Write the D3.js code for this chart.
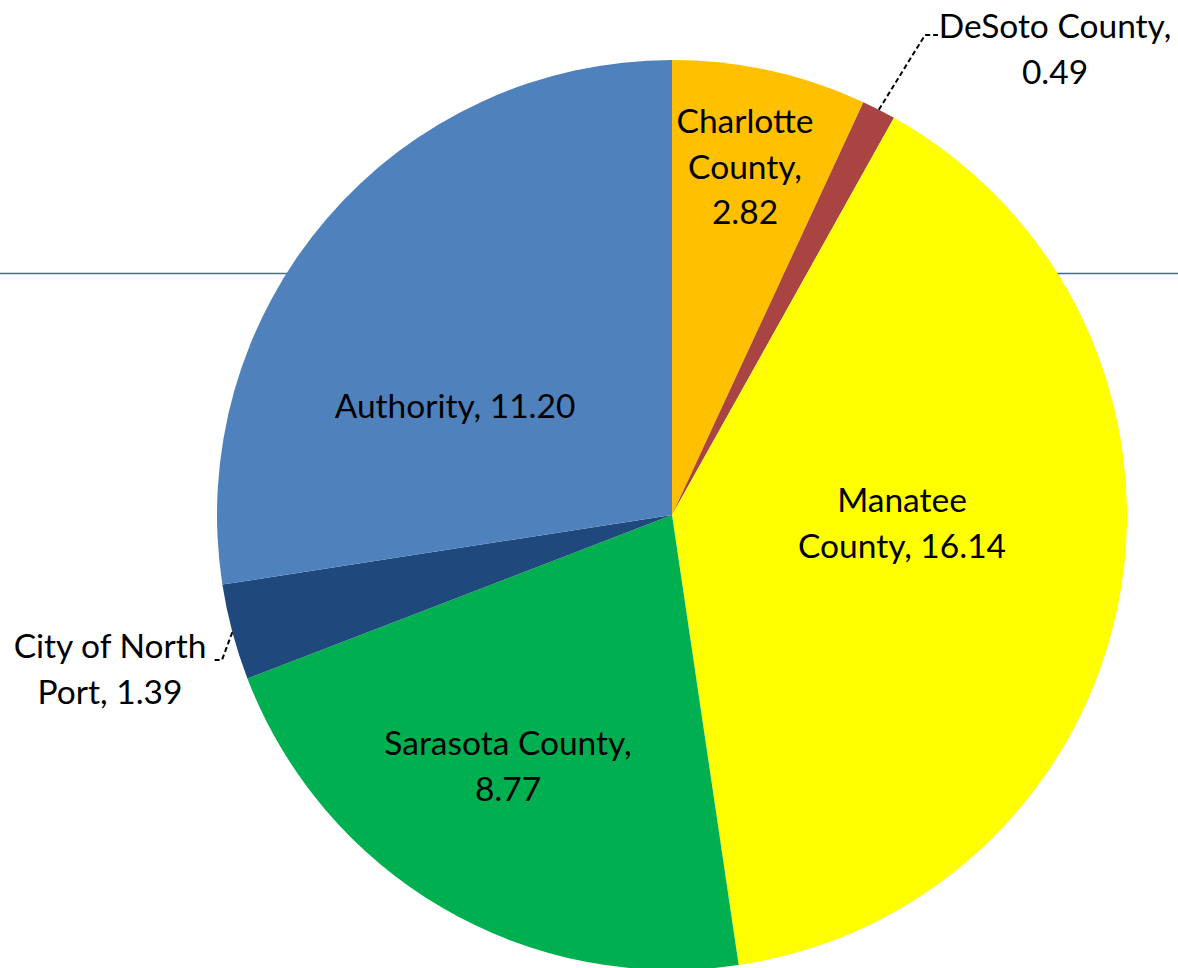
<!DOCTYPE html>
<html><head><meta charset="utf-8">
<script src="https://cdn.jsdelivr.net/npm/d3@7"></script>
<style>body{margin:0;background:#fff;}svg{display:block;}</style>
</head><body>
<script>
const categories = ["Charlotte County", "DeSoto County", "Manatee County", "Sarasota County", "City of North Port", "Authority"];
const values = [2.82, 0.49, 16.14, 8.77, 1.39, 11.20];
const colors = ["#FFC000", "#A94442", "#FFFF00", "#00B050", "#1F497D", "#4F81BD"];
const labelLines = [
  ["Charlotte", "County,", "2.82"],
  ["DeSoto County,", "0.49"],
  ["Manatee", "County, 16.14"],
  ["Sarasota County,", "8.77"],
  ["City of North", "Port, 1.39"],
  ["Authority, 11.20"]
];

const W = 1178, H = 968;
const cx = 672, cy = 515, R = 455;
const svg = d3.select("body").append("svg").attr("width", W).attr("height", H);

svg.append("line").attr("x1", 0).attr("x2", W).attr("y1", 273.5).attr("y2", 273.5)
  .attr("stroke", "#4169B0").attr("stroke-width", 1.5);

const pie = d3.pie().sort(null).value(d => d)(values);
const arc = d3.arc().innerRadius(0).outerRadius(R);
const g = svg.append("g").attr("transform", `translate(${cx},${cy})`);
g.selectAll("path").data(pie).join("path").attr("d", arc).attr("fill", (d, i) => colors[i]);

// first-line baselines
const labelPos = [
  {x: 745, y: 133}, {x: 1055, y: 38}, {x: 902, y: 512}, {x: 508, y: 755}, {x: 110, y: 658}, {x: 455, y: 418}
];
const lh = 45.5;
labelLines.forEach((lines, i) => {
  const t = svg.append("text").attr("text-anchor", "middle")
    .attr("font-family", "Lato, 'Open Sans', sans-serif").attr("font-size", 33.5).attr("fill", "#000");
  lines.forEach((s, k) => {
    t.append("tspan").attr("x", labelPos[i].x).attr("y", labelPos[i].y + k * lh).text(s);
  });
});

function edgePoint(i) {
  const a = (pie[i].startAngle + pie[i].endAngle) / 2;
  return [cx + R * Math.sin(a), cy - R * Math.cos(a)];
}
const p1 = edgePoint(1);
svg.append("path").attr("d", `M${p1[0]},${p1[1]} L925,35 L938,35`)
  .attr("fill", "none").attr("stroke", "#000").attr("stroke-width", 2).attr("stroke-dasharray", "5,3");
const p4 = edgePoint(4);
svg.append("path").attr("d", `M${p4[0]},${p4[1]} L222,660 L212,660`)
  .attr("fill", "none").attr("stroke", "#000").attr("stroke-width", 2).attr("stroke-dasharray", "5,3");
</script>
</body></html>
